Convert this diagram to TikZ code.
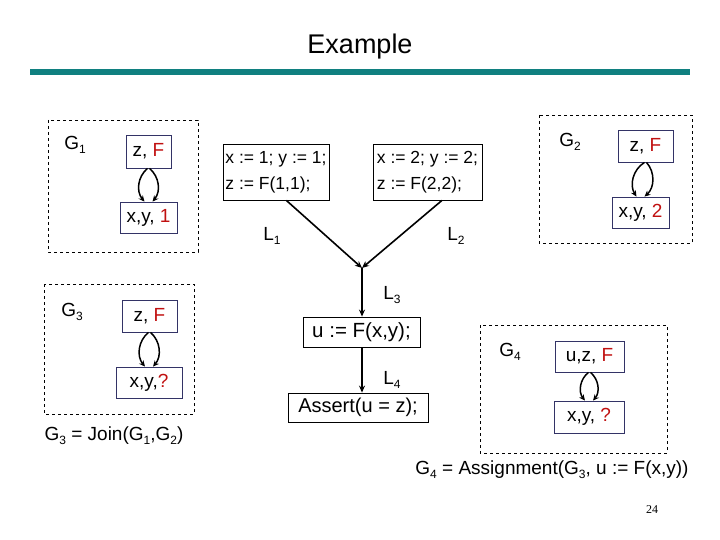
\documentclass[tikz,border=0pt]{standalone}
\usepackage{fontspec}
\setmainfont{Liberation Sans}
\newfontfamily\serifnum{Liberation Serif}
\usetikzlibrary{arrows.meta}
\definecolor{boxline}{RGB}{51,51,102}
\definecolor{dred}{RGB}{192,16,16}
\definecolor{teal2}{RGB}{16,128,128}
\newcommand\lsub[1]{\raisebox{-0.4ex}{\fontsize{12}{12}\selectfont #1}}
\begin{document}
\begin{tikzpicture}[x=1pt,y=-1pt,
  every node/.style={font=\fontsize{19}{26}\selectfont, inner sep=0pt},
  vbox/.style={draw=boxline, line width=0.8pt, minimum width=#1},
  cbox/.style={draw=black, line width=0.8pt, align=left},
  group/.style={draw=black, dashed, line width=0.7pt},
  conn/.style={line width=1.6pt, -{Stealth[length=7pt,width=6pt]}},
  loopa/.style={line width=1.5pt, -{Stealth[length=6pt,width=5.5pt]}}]
\useasboundingbox (0,0) rectangle (720,540);
\node[font=\fontsize{27}{30}\selectfont] (title) at (360,47) {Example};
\fill[teal2] (30,69) rectangle (690,75);
% G1
\draw[group] (48,120) rectangle (198,252);
\node (g1) at (75,145) {G\lsub{1}};
\node[vbox=45pt, minimum height=33pt] (g1t) at (148.5,151.5) {z, \textcolor{dred}{F}};
\node[vbox=57pt, minimum height=31pt] (g1b) at (148.5,217.5) {x,y, \textcolor{dred}{1}};
\draw[loopa] ([xshift=-1pt]g1t.south) to[bend right=45] ([xshift=-4pt]g1b.north);
\draw[loopa] ([xshift=1pt]g1t.south) to[bend left=45] ([xshift=4pt]g1b.north);
% G3
\draw[group] (44,284) rectangle (194,414);
\node (g3) at (72,312) {G\lsub{3}};
\node[vbox=55pt, minimum height=32pt] (g3t) at (149.5,316) {z, \textcolor{dred}{F}};
\node[vbox=66pt, minimum height=31pt] (g3b) at (149,382.5) {x,y,\textcolor{dred}{?}};
\draw[loopa] ([xshift=-1pt]g3t.south) to[bend right=45] ([xshift=-4pt]g3b.north);
\draw[loopa] ([xshift=1pt]g3t.south) to[bend left=45] ([xshift=4pt]g3b.north);
\node (join) at (114,436) {G\lsub{3} = Join(G\lsub{1},G\lsub{2})};
% G2
\draw[group] (539,115) rectangle (692,243);
\node (g2) at (570,142) {G\lsub{2}};
\node[vbox=55pt, minimum height=32pt] (g2t) at (645.5,146) {z, \textcolor{dred}{F}};
\node[vbox=57pt, minimum height=31pt] (g2b) at (640.5,212.5) {x,y, \textcolor{dred}{2}};
\draw[loopa] ([xshift=-1pt]g2t.south) to[bend right=45] ([xshift=-4pt]g2b.north);
\draw[loopa] ([xshift=1pt]g2t.south) to[bend left=45] ([xshift=4pt]g2b.north);
% G4
\draw[group] (480,325) rectangle (667,453);
\node (g4) at (510,352) {G\lsub{4}};
\node[vbox=69pt, minimum height=31pt] (g4t) at (589.5,356.5) {u,z, \textcolor{dred}{F}};
\node[vbox=70pt, minimum height=32pt] (g4b) at (589,417) {x,y, \textcolor{dred}{?}};
\draw[loopa] ([xshift=-1pt]g4t.south) to[bend right=45] ([xshift=-4pt]g4b.north);
\draw[loopa] ([xshift=1pt]g4t.south) to[bend left=45] ([xshift=4pt]g4b.north);
\node (assign) at (552,470) {G\lsub{4} = Assignment(G\lsub{3}, u := F(x,y))};
% program
\node[cbox, font=\fontsize{17.5}{26}\selectfont, minimum width=106pt, minimum height=56pt] (b1) at (276,172) {x := 1; y := 1;\\z := F(1,1);};
\node[cbox, font=\fontsize{17.5}{26}\selectfont, minimum width=109pt, minimum height=56pt] (b2) at (427.5,172) {x := 2; y := 2;\\z := F(2,2);};
\coordinate (j) at (362,268);
\node[cbox, font=\fontsize{20.5}{26}\selectfont, minimum width=117pt, minimum height=30pt] (u) at (361.5,332) {u := F(x,y);};
\node[cbox, font=\fontsize{20}{26}\selectfont, minimum width=140pt, minimum height=29pt] (a) at (358,407.5) {Assert(u = z);};
\draw[conn] (b1.290) -- (j);
\draw[conn] (b2.297) -- (j);
\draw[conn] (j) -- (j |- u.north);
\draw[conn] (j |- u.south) -- (j |- a.north);
\node (l1) at (272,236) {L\lsub{1}};
\node (l2) at (456,236) {L\lsub{2}};
\node (l3) at (392,295) {L\lsub{3}};
\node (l4) at (392,380) {L\lsub{4}};
\node[font=\serifnum\fontsize{12}{12}\selectfont] (pg) at (652,510) {24};
\end{tikzpicture}
\end{document}
